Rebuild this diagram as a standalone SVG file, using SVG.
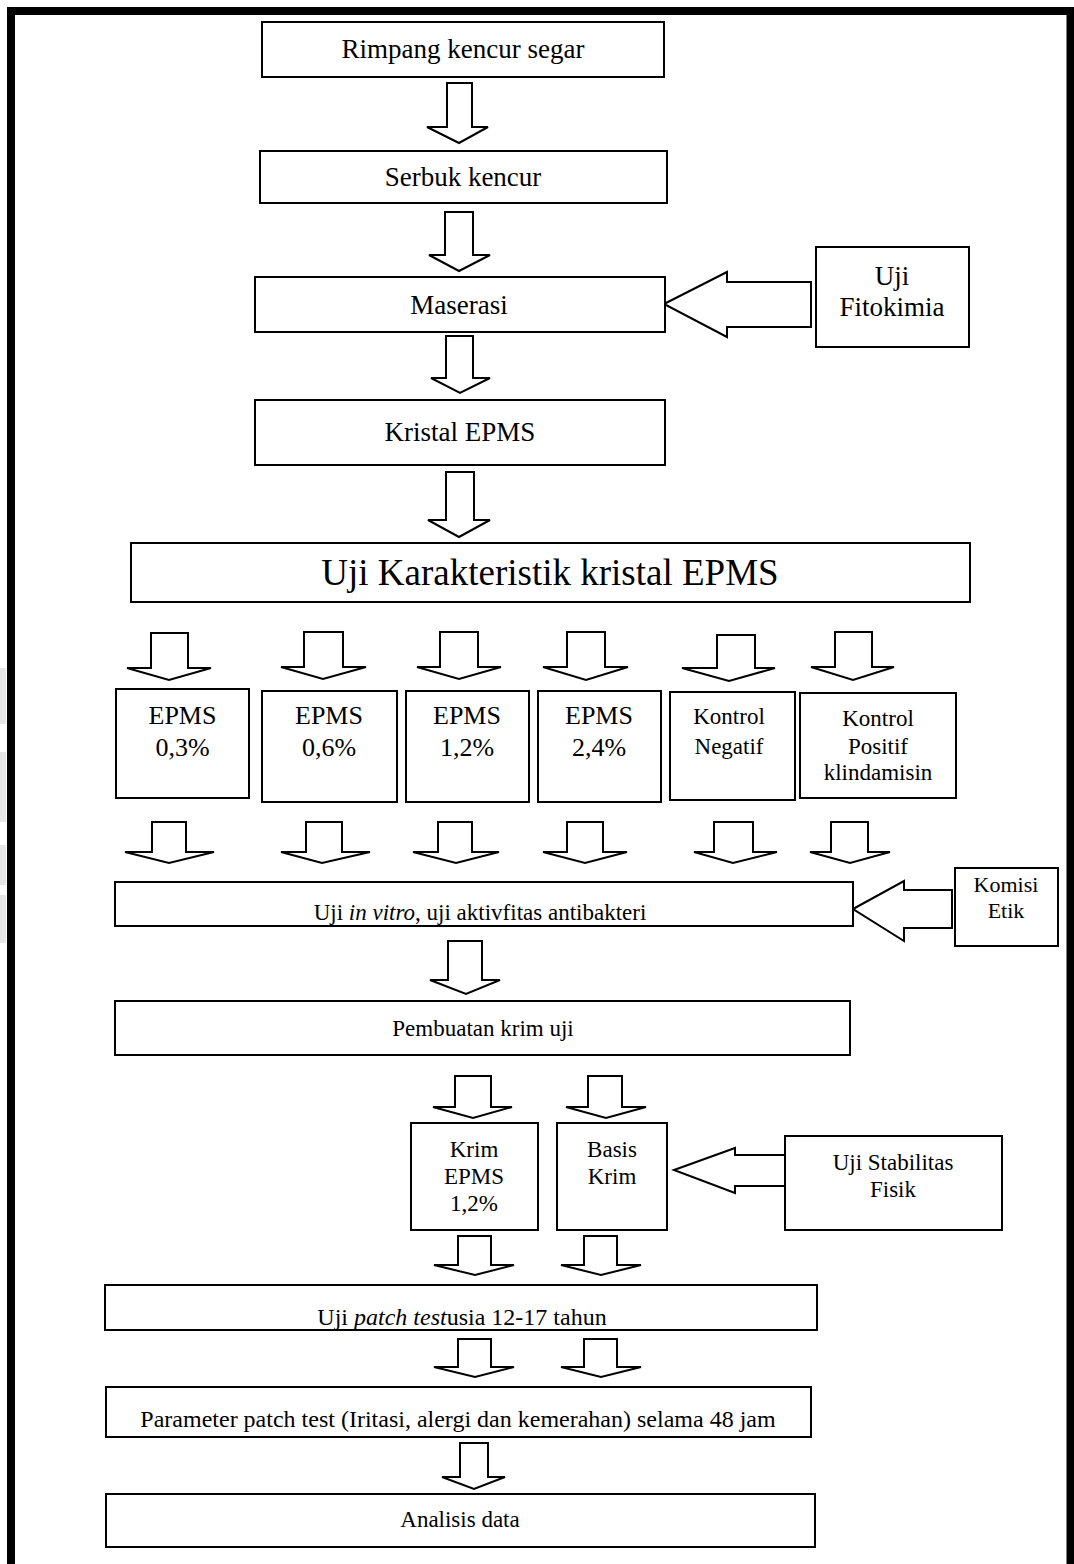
<svg xmlns="http://www.w3.org/2000/svg" width="1074" height="1564" viewBox="0 0 1074 1564">
<defs>
<style>
.box{fill:#fff;stroke:#000;stroke-width:2}
.arr{fill:#fff;stroke:#000;stroke-width:2;stroke-linejoin:miter}
text{font-family:"Liberation Serif","Times New Roman",serif;fill:#000;text-anchor:middle}
.t27{font-size:27px}
.t37{font-size:37px}
.t26{font-size:26px}
.t24{font-size:24px}
.t23{font-size:23px}
.t22{font-size:22px}
</style>
<clipPath id="clipVitro"><rect x="116" y="883" width="736" height="42"/></clipPath>
<clipPath id="clipPatch"><rect x="106" y="1286" width="710" height="43"/></clipPath>
</defs>
<rect x="0" y="0" width="1074" height="1564" fill="#fff"/>
<g id="scan-marks" fill="#e6e6e6">
<rect x="0" y="668" width="6" height="56"/>
<rect x="0" y="752" width="6" height="70"/>
<rect x="0" y="845" width="6" height="40"/>
<rect x="0" y="895" width="6" height="48"/>
</g>
<path id="frame" d="M11,1564 V11 H1070.5 V1564" fill="none" stroke="#000" stroke-width="8"/>

<g id="connectors">
<polygon class="arr" points="447,83 472,83 472,127 488,127 459,143 427,127 447,127"/>
<polygon class="arr" points="445,212 473,212 473,255 490,255 459,271 429,255 445,255"/>
<polygon class="arr" points="446,336 473,336 473,378 490,378 460,393 431,378 446,378"/>
<polygon class="arr" points="446,472 474,472 474,520 490,520 459,537 428,520 446,520"/>
<polygon class="arr" points="664,304 727,272 727,282 811,282 811,327 727,327 727,337"/>

<polygon class="arr" points="151,633 188,633 188,668 211,668 169,680 127,668 151,668"/>
<polygon class="arr" points="304,632 343,632 343,667 366,667 323,679 281,667 304,667"/>
<polygon class="arr" points="440,632 478,632 478,667 501,667 459,679 417,667 440,667"/>
<polygon class="arr" points="567,632 605,632 605,667 628,667 586,680 543,667 567,667"/>
<polygon class="arr" points="717,635 755,635 755,668 775,668 729,681 682,668 717,668"/>
<polygon class="arr" points="835,632 872,632 872,667 894,667 853,680 811,667 835,667"/>

<polygon class="arr" points="152,822 186,822 186,852 214,852 169,863 125,852 152,852"/>
<polygon class="arr" points="306,822 342,822 342,852 370,852 322,863 281,852 306,852"/>
<polygon class="arr" points="438,822 472,822 472,852 499,852 456,863 413,852 438,852"/>
<polygon class="arr" points="567,822 603,822 603,852 627,852 585,863 543,852 567,852"/>
<polygon class="arr" points="714,822 753,822 753,852 777,852 733,863 694,852 714,852"/>
<polygon class="arr" points="831,822 868,822 868,852 890,852 850,863 810,852 831,852"/>

<polygon class="arr" points="853,909 904,881 904,890 952,890 952,928 904,928 904,941"/>

<polygon class="arr" points="448,941 482,941 482,980 500,980 466,994 430,980 448,980"/>

<polygon class="arr" points="455,1076 491,1076 491,1107 512,1107 473,1118 433,1107 455,1107"/>
<polygon class="arr" points="588,1076 622,1076 622,1107 646,1107 606,1118 566,1107 588,1107"/>

<polygon class="arr" points="674,1170 735,1148 735,1155 785,1155 785,1186 735,1186 735,1193"/>

<polygon class="arr" points="458,1236 491,1236 491,1265 514,1265 475,1275 434,1265 458,1265"/>
<polygon class="arr" points="584,1236 617,1236 617,1265 641,1265 601,1275 561,1265 584,1265"/>

<polygon class="arr" points="458,1339 491,1339 491,1367 514,1367 475,1377 434,1367 458,1367"/>
<polygon class="arr" points="584,1339 617,1339 617,1367 641,1367 601,1377 561,1367 584,1367"/>

<polygon class="arr" points="460,1443 488,1443 488,1477 505,1477 474,1489 442,1477 460,1477"/>
</g>

<g id="n-rimpang"><rect class="box" x="262" y="22" width="402" height="55"/><text class="t27" x="463" y="58">Rimpang kencur segar</text></g>
<g id="n-serbuk"><rect class="box" x="260" y="151" width="407" height="52"/><text class="t27" x="463" y="186">Serbuk kencur</text></g>
<g id="n-maserasi"><rect class="box" x="255" y="277" width="410" height="55"/><text class="t27" x="459" y="314">Maserasi</text></g>
<g id="n-fitokimia"><rect class="box" x="816" y="247" width="153" height="100"/><text class="t27" x="892" y="285">Uji</text><text class="t27" x="892" y="316">Fitokimia</text></g>
<g id="n-kristal"><rect class="box" x="255" y="400" width="410" height="65"/><text class="t27" x="460" y="441">Kristal EPMS</text></g>
<g id="n-karakteristik"><rect class="box" x="131" y="543" width="839" height="59"/><text class="t37" x="550" y="585">Uji Karakteristik kristal EPMS</text></g>

<g id="n-epms03"><rect class="box" x="116" y="689" width="133" height="109"/><text class="t26" x="182.5" y="724">EPMS</text><text class="t26" x="182.5" y="756">0,3%</text></g>
<g id="n-epms06"><rect class="box" x="262" y="691" width="135" height="111"/><text class="t26" x="329" y="724">EPMS</text><text class="t26" x="329" y="756">0,6%</text></g>
<g id="n-epms12"><rect class="box" x="406" y="691" width="123" height="111"/><text class="t26" x="467" y="724">EPMS</text><text class="t26" x="467" y="756">1,2%</text></g>
<g id="n-epms24"><rect class="box" x="538" y="691" width="123" height="111"/><text class="t26" x="599" y="724">EPMS</text><text class="t26" x="599" y="756">2,4%</text></g>
<g id="n-kneg"><rect class="box" x="670" y="692" width="125" height="108"/><text class="t23" x="729" y="724">Kontrol</text><text class="t23" x="729" y="754">Negatif</text></g>
<g id="n-kpos"><rect class="box" x="800" y="693" width="156" height="105"/><text class="t23" x="878" y="726">Kontrol</text><text class="t23" x="878" y="754">Positif</text><text class="t23" x="878" y="780">klindamisin</text></g>

<g id="n-invitro"><rect class="box" x="115" y="882" width="738" height="44"/><text class="t23" x="480" y="920" clip-path="url(#clipVitro)">Uji <tspan font-style="italic">in vitro</tspan>, uji aktivfitas antibakteri</text></g>
<g id="n-komisi"><rect class="box" x="955" y="868" width="103" height="78"/><text class="t22" x="1006" y="892">Komisi</text><text class="t22" x="1006" y="918">Etik</text></g>

<g id="n-pembuatan"><rect class="box" x="115" y="1001" width="735" height="54"/><text class="t23" x="483" y="1036">Pembuatan krim uji</text></g>

<g id="n-krimepms"><rect class="box" x="411" y="1123" width="127" height="107"/><text class="t23" x="474" y="1157">Krim</text><text class="t23" x="474" y="1184">EPMS</text><text class="t23" x="474" y="1211">1,2%</text></g>
<g id="n-basis"><rect class="box" x="557" y="1123" width="110" height="107"/><text class="t23" x="612" y="1157">Basis</text><text class="t23" x="612" y="1184">Krim</text></g>
<g id="n-stabilitas"><rect class="box" x="785" y="1136" width="217" height="94"/><text class="t23" x="893" y="1170">Uji Stabilitas</text><text class="t23" x="893" y="1197">Fisik</text></g>

<g id="n-patch"><rect class="box" x="105" y="1285" width="712" height="45"/><text class="t24" x="462" y="1325" clip-path="url(#clipPatch)">Uji <tspan font-style="italic">patch test</tspan>usia 12-17 tahun</text></g>
<g id="n-parameter"><rect class="box" x="106" y="1387" width="705" height="50"/><text class="t24" x="458" y="1427">Parameter patch test (Iritasi, alergi dan kemerahan) selama 48 jam</text></g>
<g id="n-analisis"><rect class="box" x="106" y="1494" width="709" height="53"/><text class="t23" x="460" y="1527">Analisis data</text></g>
</svg>
